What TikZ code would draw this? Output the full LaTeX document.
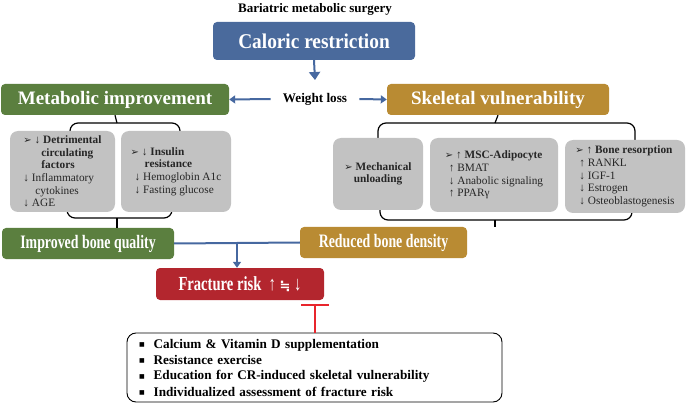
\documentclass[tikz,border=0pt]{standalone}
\usepackage{fontspec}
\setmainfont{Liberation Serif}
\newfontfamily\symfont{DejaVu Sans}
\newfontfamily\narrowfont[FakeStretch=0.73]{Liberation Serif}
\newfontfamily\semifont[FakeStretch=0.92]{Liberation Serif}
\usetikzlibrary{arrows.meta}

\definecolor{calblue}{HTML}{4A6A9C}
\definecolor{metgreen}{HTML}{5B7F3F}
\definecolor{skelgold}{HTML}{B98B33}
\definecolor{fracred}{HTML}{B3262E}
\definecolor{inhred}{HTML}{E8252C}
\definecolor{boxgray}{HTML}{C2C2C2}
\definecolor{flowblue}{HTML}{4668A0}

\newcommand{\pt}{{\symfont\fontsize{10}{12}\selectfont ➢}}
\newcommand{\sq}{\raisebox{1.8pt}{\symfont\fontsize{6}{12}\selectfont ■}}

\tikzset{
  head/.style={rounded corners=4pt, text=white, inner sep=0pt,
    font=\bfseries\fontsize{19}{22}\selectfont},
  lowhead/.style={head, font=\narrowfont\bfseries\fontsize{19}{22}\selectfont},
  graybox/.style={fill=boxgray, rounded corners=8pt, inner sep=0pt,
    align=left, text=black!85, font=\fontsize{11.3}{12.6}\selectfont},
  flow/.style={draw=flowblue, line width=2pt, -{Triangle[width=8pt,length=6pt]}},
  bracket/.style={draw, line width=1.2pt, rounded corners=8pt},
}

\begin{document}
\begin{tikzpicture}[x=1pt, y=-1pt]
\useasboundingbox (0,0) rectangle (690,403);

% top of the chain
\node (surgery) at (315,9) {\bfseries\fontsize{13}{15}\selectfont Bariatric metabolic surgery};
\node[head, fill=calblue, minimum width=202, minimum height=38,
      font=\semifont\bfseries\fontsize{21}{24}\selectfont] (caloric) at (314,41) {Caloric restriction};
\node[inner xsep=12pt] (weight) at (315,99) {\bfseries\fontsize{13.2}{15}\selectfont Weight loss};
\coordinate (wtop) at (315,80);

\node[head, fill=metgreen, minimum width=228, minimum height=31] (metab) at (115,99.5) {Metabolic improvement};
\node[head, fill=skelgold, minimum width=222, minimum height=31] (skel) at (498,99.5) {Skeletal vulnerability};

% brackets behind the grey boxes
\draw[bracket] (70,140) -- (70,123) -- (180,123) -- (180,140);
\draw[bracket] (67,205) -- (67,218) -- (172,218) -- (172,205);
\draw[bracket] (378,145) -- (378,123) -- (635,123) -- (635,145);
\draw[bracket] (380,205) -- (380,220) -- (632,220) -- (632,205);
\draw[line width=1.2pt] (metab.south) -- (117,123);
\draw[line width=1.2pt] (skel.south) -- (495,123);

% left group
\node[graybox, minimum width=105, minimum height=81] (detri) at (62.5,171.5)
  {\pt\ \textbf{↓ Detrimental}\\
   \hspace{18pt}\textbf{circulating}\\
   \hspace{18pt}\textbf{factors}\\
   ↓ Inflammatory\\
   \hspace{12pt}cytokines\\
   ↓ AGE};
\node[graybox, minimum width=110, minimum height=81] (insul) at (176,171.5)
  {\pt\ \textbf{↓ Insulin}\\
   \hspace{14pt}\textbf{resistance}\\
   \hspace{4pt}↓ Hemoglobin A1c\\
   \hspace{4pt}↓ Fasting glucose};

% right group
\node[graybox, align=center, minimum width=90, minimum height=72] (mech) at (378,174)
  {\pt\ \textbf{Mechanical}\\\textbf{unloading}};
\node[graybox, minimum width=128, minimum height=74] (msc) at (494,175)
  {\pt\ \textbf{↑ MSC-Adipocyte}\\
   \hspace{4pt}↑ BMAT\\
   \hspace{4pt}↓ Anabolic signaling\\
   \hspace{4pt}↑ PPARγ};
\node[graybox, minimum width=120, minimum height=73] (resorp) at (625,176.5)
  {\pt\ \textbf{↑ Bone resorption}\\
   \hspace{4pt}↑ RANKL\\
   \hspace{4pt}↓ IGF-1\\
   \hspace{4pt}↓ Estrogen\\
   \hspace{4pt}↓ Osteoblastogenesis};

% bone outcomes
\node[lowhead, fill=metgreen, minimum width=172, minimum height=31] (improved) at (88,243.5) {Improved bone quality};
\node[lowhead, fill=skelgold, minimum width=167, minimum height=31] (reduced) at (383.5,242.5) {Reduced bone density};
\draw[line width=1.2pt] (117,218) -- (117,228);
\draw[line width=1.2pt] (495,220) -- (reduced.north -| 495,0);
\node[lowhead, fill=fracred, minimum width=168, minimum height=32,
      font=\narrowfont\bfseries\fontsize{20}{22}\selectfont] (fracture) at (240,284)
  {Fracture risk\ \ ↑ {\symfont\fontsize{13}{16}\selectfont ≒} ↓};
\coordinate (join) at (237,243);

% prevention
\node[draw, line width=0.9pt, rounded corners=9pt, text width=351pt, minimum height=69,
      inner xsep=12pt, inner ysep=0pt, align=left,
      font=\bfseries\fontsize{13.2}{16}\selectfont] (advice) at (314.5,367.5)
  {\sq\hspace{9pt}Calcium \& Vitamin D supplementation\\
   \sq\hspace{9pt}Resistance exercise\\
   \sq\hspace{9pt}Education for CR-induced skeletal vulnerability\\
   \sq\hspace{9pt}Individualized assessment of fracture risk};

% connectors
\draw[flow, -{Triangle[width=11pt,length=8pt]}] (caloric.south) -- (wtop);
\draw[flow] (weight.west) -- (metab.east);
\draw[flow] (weight.east) -- (skel.west);
\draw[draw=flowblue, line width=2pt] (improved.east) -- (reduced.west);
\draw[flow] (join) -- (join |- fracture.north);
\draw[draw=inhred, line width=1.6pt, -{Bar[width=28pt]}] (advice.north -| 315,0) -- (315,304);
\end{tikzpicture}
\end{document}
